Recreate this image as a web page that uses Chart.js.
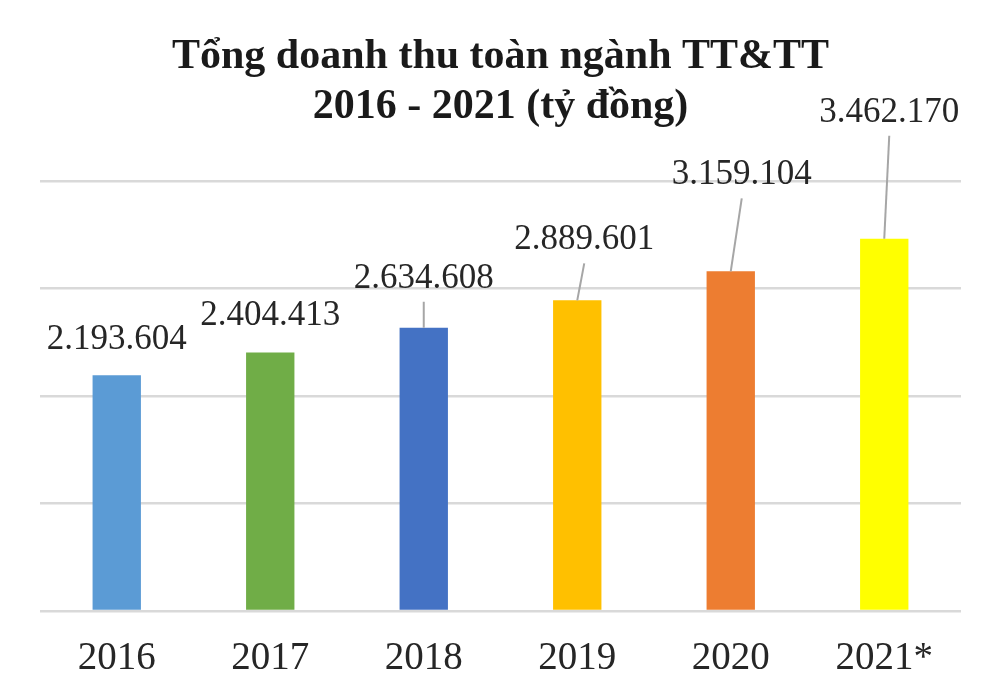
<!DOCTYPE html>
<html>
<head>
<meta charset="utf-8">
<script src="https://cdn.jsdelivr.net/npm/chart.js@4.4.0/dist/chart.umd.min.js"></script>
<style>
  html, body { margin: 0; padding: 0; background: #fff; }
  #wrap { width: 988px; height: 693px; position: relative; }
</style>
</head>
<body>
<div id="wrap"><canvas id="chartRevenue"></canvas></div>
<script>
// doanh thu toàn ngành (tỷ đồng)
var years = ['2016', '2017', '2018', '2019', '2020', '2021*'];
var revenue = [2193604, 2404413, 2634608, 2889601, 3159104, 3462170];
var barColors = ['#5B9BD5', '#70AD47', '#4472C4', '#FFC000', '#ED7D31', '#FFFF00'];
var yTicks = [0, 1000000, 2000000, 3000000, 4000000];
var titleLines = ['Tổng doanh thu toàn ngành TT&TT', '2016 - 2021 (tỷ đồng)'];

// label placement relative to bar top (px), leader = draw callout line
var labelDx = [0, 0, 0, 7, 11, 5];
var labelDy = [-26, -28, -40, -51, -87, -117];
var labelLeader = [false, false, true, true, true, true];

function fmtDots(v) {
    return String(v).replace(/\B(?=(\d{3})+(?!\d))/g, '.');
}

var barLabels = {
    id: 'barLabels',
    afterDatasetsDraw: function (chart) {
        var ctx = chart.ctx;
        var meta = chart.getDatasetMeta(0);
        ctx.save();
        ctx.font = '35px "Liberation Serif", "Times New Roman", serif';
        ctx.textAlign = 'center';
        ctx.textBaseline = 'alphabetic';
        meta.data.forEach(function (bar, i) {
            var tx = bar.x + labelDx[i];
            var ty = bar.y + labelDy[i];
            if (labelLeader[i]) {
                ctx.strokeStyle = '#a6a6a6';
                ctx.lineWidth = 2;
                ctx.beginPath();
                ctx.moveTo(tx, ty + 14);
                ctx.lineTo(bar.x, bar.y);
                ctx.stroke();
            }
            ctx.fillStyle = '#262626';
            ctx.fillText(fmtDots(revenue[i]), tx, ty);
        });
        ctx.restore();
    }
};

var ctx = document.getElementById('chartRevenue').getContext('2d');
var revenueChart = new Chart(ctx, {
    type: 'bar',
    data: {
        labels: years,
        datasets: [{
            label: 'Doanh thu',
            data: revenue,
            backgroundColor: barColors,
            borderWidth: 0,
            categoryPercentage: 1,
            barPercentage: 0.315
        }]
    },
    options: {
        responsive: true,
        maintainAspectRatio: false,
        animation: false,
        layout: { padding: { left: 40, right: 27, top: 0, bottom: 0 } },
        plugins: {
            legend: { display: false },
            tooltip: { enabled: false },
            title: {
                display: true,
                text: titleLines,
                color: '#1a1a1a',
                font: { family: '"Liberation Serif", "Times New Roman", serif', size: 42, weight: 'bold', lineHeight: 1.19 },
                padding: { top: 32, bottom: 49 }
            }
        },
        scales: {
            x: {
                afterFit: function (axis) { axis.height = 82; },
                grid: { display: false },
                border: { display: false },
                ticks: {
                    color: '#262626',
                    padding: 16,
                    font: { family: '"Liberation Serif", "Times New Roman", serif', size: 39 }
                }
            },
            y: {
                min: 0,
                max: 4000000,
                afterBuildTicks: function (axis) {
                    axis.ticks = yTicks.map(function (v) { return { value: v }; });
                },
                border: { display: false },
                grid: { color: '#d9d9d9', lineWidth: 2.5, drawTicks: false },
                ticks: { display: false }
            }
        }
    },
    plugins: [barLabels]
});
</script>
</body>
</html>
